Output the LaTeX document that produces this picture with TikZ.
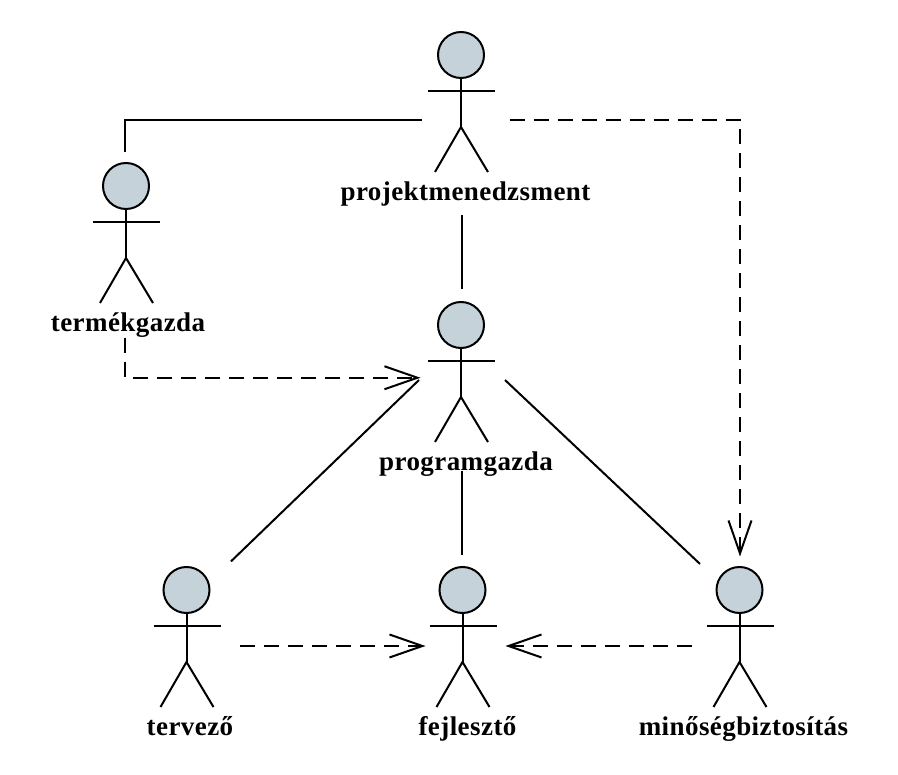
\documentclass[tikz,border=0pt]{standalone}
\usepackage{fontspec}
\setmainfont[LetterSpace=1.6]{Liberation Serif}
\usepackage{tikz}
\usetikzlibrary{arrows.meta, positioning}
\definecolor{headfill}{HTML}{C5D2DA}
\tikzset{
  actorhead/.style={circle, minimum size=46pt, inner sep=0pt, draw=black, line width=2pt, fill=headfill},
  actorline/.style={line width=2pt, draw=black},
  actorname/.style={font=\fontsize{27}{27}\selectfont\bfseries, text height=18pt, text depth=6pt, inner sep=0pt},
  actorframe/.style={rectangle, minimum width=90pt, minimum height=182pt, inner sep=0pt, outer sep=0pt},
  assocline/.style={line width=2pt, draw=black},
  depline/.style={line width=2pt, draw=black, dash pattern=on 15pt off 9pt, shorten >=-1.5pt, -{Straight Barb[length=33pt, width=23pt, line width=2pt]}},
  actor/.pic={
    \node[actorhead] (head) at (0,0) {};
    \draw[actorline] (head.south) -- (0,72);
    \draw[actorline] (-33,36) -- (34,36);
    \draw[actorline] (-26,117) -- (0,72) -- (27,117);
  },
}
\begin{document}
\begin{tikzpicture}[x=1pt, y=-1pt]
\useasboundingbox (0,0) rectangle (898,775);
\pic (pm) at (461,55) {actor};
\pic (tg) at (126,186) {actor};
\pic (pg) at (461,325) {actor};
\pic (te) at (186.5,590) {actor};
\pic (fe) at (462.5,590) {actor};
\pic (qa) at (739.5,590) {actor};

\node[actorname, below=103pt of pmhead, xshift=4.5pt] (pmname) {projektmenedzsment};
\node[actorname, below=103pt of tghead, xshift=2pt] (tgname) {termékgazda};
\node[actorname, below=103pt of pghead, xshift=5pt] (pgname) {programgazda};
\node[actorname, below=103pt of tehead, xshift=3.5pt] (tename) {tervező};
\node[actorname, below=103pt of fehead, xshift=5pt] (fename) {fejlesztő};
\node[actorname, below=103pt of qahead, xshift=4pt] (qaname) {minőségbiztosítás};

\node[actorframe, minimum width=88pt, minimum height=190pt] (pm) at (465.5,120) {};
\node[actorframe, minimum height=186pt] (tg) at (125,245) {};
\node[actorframe, minimum width=86pt] (pg) at (462,380) {};
\node[actorframe] (te) at (186,646) {};
\node[actorframe, minimum width=83pt] (fe) at (465.5,646) {};
\node[actorframe, minimum width=80pt] (qa) at (740,646) {};

\draw[assocline] (tg.north) |- (pm.west);
\draw[depline] (pm.east) -| (qa.north);
\draw[assocline] (pm.south -| pg.north) -- (pg.north);
\draw[depline] (tg.south) |- (pg.177);
\draw[assocline] (te.62) -- (pg.west);
\draw[assocline] (pg.south) -- (pg.south |- fe.north);
\draw[assocline] (pg.east) -- (qa.116);
\draw[depline, shorten <=9pt] (te.east) -- (fe.west);
\draw[depline, shorten <=8pt] (qa.west) -- (fe.east);
\end{tikzpicture}
\end{document}
